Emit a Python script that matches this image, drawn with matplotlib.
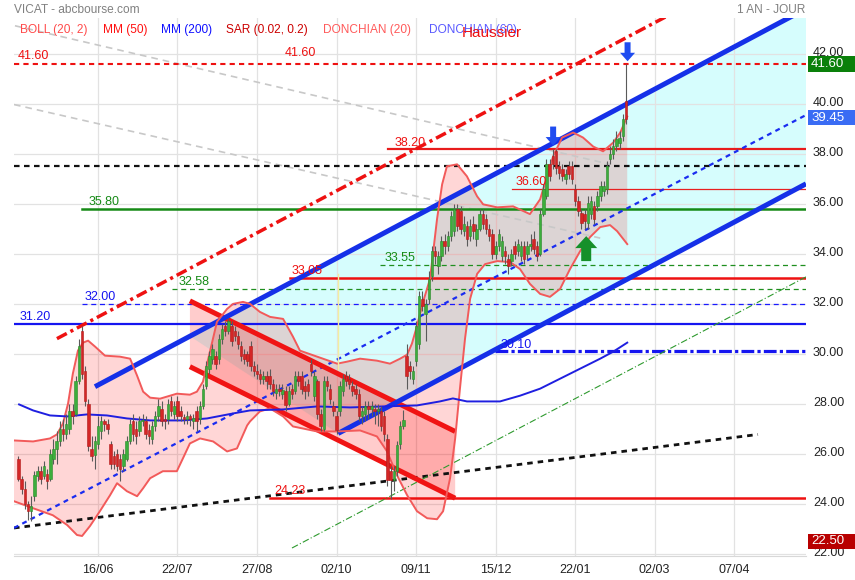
import numpy as np
import matplotlib
matplotlib.use("Agg")
import matplotlib.pyplot as plt
from matplotlib.patches import Polygon, Rectangle
from matplotlib.transforms import blended_transform_factory, ScaledTranslation

plt.rcParams['font.family'] = ['Liberation Sans', 'DejaVu Sans']

# ---------------- data ----------------
idx0 = -25
opens = [25.8,25.0,24.6,24.0,23.7,24.3,25.1,25.3,25.1,25.2,25.0,25.8,26.2,26.5,27.0,26.8,27.0,27.7,27.6,28.9,
         30.9,29.3,28.0,26.2,25.95,26.4,26.9,27.3,27.2,26.4,25.9,26.0,25.8,25.5,25.8,26.5,27.3,27.0,26.9,27.3,
         27.3,26.95,26.6,27.1,27.5,27.8,27.4,27.4,28.1,27.6,28.1,27.7,27.45,27.4,27.5,27.3,27.7,27.4,27.9,28.7,
         29.4,29.8,29.9,29.8,30.6,31.1,30.9,31.1,30.9,30.7,30.3,30.0,30.0,30.3,29.5,29.3,29.2,29.0,29.1,29.1,
         28.8,28.45,28.6,28.4,28.5,28.0,28.6,28.5,29.1,29.1,28.7,28.8,29.6,28.3,28.9,27.6,27.0,28.9,28.6,27.9,
         27.5,27.7,28.5,29.1,29.0,28.7,28.6,28.4,27.5,27.6,27.9,27.8,27.8,27.7,27.7,27.5,26.6,25.3,24.95,25.3,
         26.4,27.1,29.9,29.5,29.0,29.7,30.4,32.2,31.6,32.2,33.1,34.1,33.5,33.9,34.5,34.3,34.7,34.9,35.8,35.7,
         34.9,35.1,34.7,35.2,34.6,35.0,35.6,35.4,35.0,34.8,34.0,34.3,33.9,34.1,33.8,33.7,34.3,34.1,33.9,34.3,
         34.0,34.3,34.6,34.3,34.0,35.6,36.3,37.6,37.9,38.1,37.5,37.4,37.0,37.5,37.5,36.6,36.1,35.65,35.6,35.25,
         35.6,35.9,35.9,36.3,36.5,36.6,37.8,38.0,38.3,38.45,38.7,40.1]
highs = [25.9,25.1,24.9,24.1,24.3,25.3,25.5,25.5,25.7,25.4,26.2,26.6,26.9,27.3,27.4,27.6,28.0,28.0,29.1,30.6,
         31.1,29.5,28.2,26.7,26.7,27.5,27.5,27.4,27.4,26.5,26.1,26.2,26.0,26.2,26.7,27.4,27.6,27.3,27.5,27.6,
         27.5,27.2,27.3,27.7,28.2,28.1,27.6,28.2,28.3,28.1,28.3,27.9,27.6,27.7,27.6,27.6,27.9,28.1,28.8,29.7,
         30.1,30.4,30.1,30.8,31.2,31.3,31.45,31.3,31.1,30.9,30.5,30.2,30.1,30.5,29.7,29.6,29.4,29.3,29.3,29.4,
         29.0,28.8,28.8,28.8,28.7,28.7,28.8,29.3,29.3,29.3,28.9,29.0,29.8,29.3,29.0,27.8,29.1,29.1,28.8,28.1,
         27.7,28.9,29.2,29.3,29.2,28.9,28.8,28.6,27.9,28.1,28.1,28.1,28.0,28.0,27.9,27.7,26.8,25.5,25.5,26.5,
         27.3,27.75,30.4,29.7,29.5,31.3,32.5,32.5,32.2,33.3,34.3,34.3,34.1,34.7,34.8,34.9,35.7,36.0,36.0,35.9,
         35.5,35.3,35.4,35.5,35.2,35.8,35.8,35.6,35.2,35.0,34.5,35.0,34.7,34.3,34.0,34.2,34.5,34.6,34.5,34.5,
         34.5,34.8,34.9,34.5,35.8,36.8,37.8,37.8,38.2,38.2,37.7,37.6,37.4,37.7,37.7,36.8,36.3,35.8,35.8,36.3,
         36.3,36.1,36.5,36.9,36.9,37.7,38.3,38.6,38.9,38.9,39.6,41.6]
lows = [24.9,24.4,23.8,23.35,23.3,24.1,24.9,24.8,25.0,24.6,24.9,25.6,25.6,26.3,26.5,26.6,26.8,27.2,27.5,28.8,
        29.0,27.9,26.1,25.7,25.4,26.2,26.6,26.9,26.8,25.4,25.4,25.3,24.9,25.3,25.7,26.4,26.5,26.4,26.7,27.1,
        26.6,26.4,26.4,26.9,27.3,27.1,27.0,27.2,27.5,27.4,27.3,27.3,27.2,27.2,27.1,27.0,26.9,27.2,27.8,28.6,
        29.2,29.6,29.4,29.6,30.4,30.7,30.8,30.3,30.5,30.2,29.7,29.6,29.5,29.3,29.1,29.0,28.8,28.8,28.6,28.6,
        28.3,28.2,28.3,28.2,27.7,27.9,28.2,28.4,28.7,28.4,28.2,28.3,29.1,28.1,27.4,26.9,26.9,28.5,28.0,27.5,
        26.8,27.5,28.3,28.7,28.6,28.3,28.2,27.3,27.2,27.3,27.4,27.5,27.2,27.1,26.9,26.5,24.7,24.2,24.5,25.1,
        26.2,27.0,28.6,29.0,28.8,29.5,30.2,31.7,30.5,32.0,32.9,33.6,33.2,33.7,34.0,34.1,34.5,34.7,34.9,34.8,
        34.7,34.3,34.5,34.6,34.3,34.9,35.0,34.8,34.5,33.8,33.8,34.1,33.7,33.6,33.2,33.5,33.8,33.9,33.7,33.6,
        33.8,34.1,34.0,33.7,33.9,35.5,36.2,36.9,37.4,37.2,37.0,36.9,36.8,37.0,36.8,35.9,35.5,35.0,35.0,35.0,
        35.4,35.2,35.7,36.1,36.3,36.4,37.6,37.8,38.1,38.2,38.5,39.2]
closes = [25.0,24.6,24.0,23.7,23.9,25.15,25.3,25.0,25.5,24.9,26.0,26.2,26.5,27.0,26.8,27.2,27.7,27.5,28.9,30.3,
          29.2,28.1,26.3,25.9,26.5,27.1,27.3,27.2,27.0,25.6,25.6,25.5,25.4,26.0,26.5,27.2,26.8,26.7,27.3,27.35,
          26.8,26.7,27.1,27.5,27.9,27.3,27.3,28.0,27.7,27.9,27.5,27.5,27.4,27.5,27.4,27.45,27.3,27.9,28.6,29.5,
          29.9,30.2,29.6,30.6,31.0,30.9,31.3,30.5,30.7,30.4,29.9,29.8,29.7,29.5,29.3,29.2,29.0,29.1,28.9,28.8,
          28.5,28.6,28.5,28.55,27.95,28.5,28.4,29.1,28.9,28.6,28.5,28.5,29.3,29.1,27.6,27.1,28.9,28.7,28.2,27.7,
          26.95,28.7,29.0,28.9,28.8,28.5,28.4,27.5,27.7,27.9,27.8,27.9,27.7,27.8,27.1,26.8,24.95,24.95,25.3,26.35,
          27.1,27.35,29.1,29.3,29.3,31.1,32.3,31.9,32.0,33.0,34.1,33.9,33.9,34.5,34.3,34.7,35.5,35.8,35.1,35.0,
          35.2,34.6,35.1,34.9,35.0,35.6,35.2,35.0,34.7,34.0,34.3,34.8,34.5,33.9,33.5,34.0,34.0,34.4,34.3,33.8,
          34.3,34.4,34.2,33.9,35.6,36.6,37.6,37.1,37.6,37.45,37.25,37.1,37.2,37.2,37.0,36.1,35.7,35.25,35.3,36.05,
          36.1,35.4,36.3,36.7,36.7,37.5,38.0,38.3,38.6,38.65,39.4,39.4]

# Bollinger (20,2) band (index, price)
boll_up_i = [-26.4,-20.4,-15.1,-12.9,-11.0,-9.4,-7.9,-6.3,-4.7,-3.1,-0.9,2.2,6.9,10.1,12.3,14.2,16.4,19.5,24.8,28.9,
             31.1,33.0,35.2,37.4,40.6,42.5,45.6,47.8,50.9,54.1,58.2,61.3,63.5,68.9,75.2,78.3,82.4,87.7,91.8,95.0,
             97.2,98.7,100.3,102.2,104.4,106.6,108.2,109.7,112.9,116.0,119.2,121.1,125.5,130.5,135.8,139.0,141.2,
             143.1,145.9,149.4,152.5,155.7,158.8,162.0,164.2,166.4]
boll_up_p = [26.54,26.50,26.62,26.78,27.22,28.02,29.21,30.13,30.45,30.53,30.29,29.93,29.89,29.81,29.13,28.49,28.25,
             28.21,28.41,28.37,28.49,28.89,30.09,31.28,31.80,32.00,32.08,32.00,31.68,31.48,31.40,30.69,30.13,29.89,
             29.61,29.69,29.81,29.73,29.61,29.81,29.97,30.41,31.12,32.08,33.00,35.39,36.78,37.50,37.58,37.10,36.30,
             35.98,35.86,35.90,35.59,36.18,37.10,37.90,38.65,38.85,38.65,38.29,38.10,38.45,38.85,39.49]
boll_lo_i = [-26.4,-20.4,-14.2,-9.7,-6.6,-5.0,-2.5,0.6,3.8,6.0,9.1,12.3,14.2,16.4,20.4,24.8,26.7,28.9,32.1,36.2,
             40.6,43.7,46.9,47.8,50.9,54.1,58.2,61.3,68.9,75.2,82.4,87.7,90.9,94.0,97.2,100.3,103.5,106.6,108.5,
             110.7,112.3,113.8,115.4,117.0,119.2,121.7,125.5,129.6,132.7,135.8,139.0,142.1,145.3,148.4,151.6,
             154.7,157.9,161.0,163.2,166.4]
boll_lo_p = [24.11,23.83,23.55,23.16,22.76,22.72,23.12,23.71,24.35,24.83,24.51,24.31,24.63,25.03,25.31,25.31,25.82,
             26.42,26.62,26.50,26.10,26.22,27.14,27.30,27.70,27.82,27.50,27.10,26.90,26.90,26.94,26.70,26.10,25.15,
             24.35,23.71,23.43,23.39,23.71,25.03,26.62,28.61,30.61,32.20,33.20,33.59,33.71,33.67,33.39,32.80,32.40,
             32.28,32.60,33.39,34.11,34.67,35.07,35.15,34.91,34.39]

# MM (200)
mm200_i = [-24.8,-20.4,-15.1,-9.7,-3.5,2.8,9.1,16.4,26.7,34.3,42.5,47.8,58.2,68.9,79.2,89.6,100.3,107.5,111.6,
           116.0,126.4,132.7,139.0,145.3,151.6,157.9,162.0,166.4]
mm200_p = [27.98,27.74,27.54,27.50,27.58,27.54,27.42,27.34,27.34,27.42,27.62,27.74,27.78,27.90,27.86,27.90,27.94,
           28.10,28.22,28.10,28.10,28.33,28.61,29.01,29.41,29.81,30.09,30.45]

# trend lines: (i0, p0, i1, p1)
blue_up = (-0.94, 28.69, 222.6, 43.80)
blue_lo = (75.5, 26.82, 222.6, 36.80)
cyan_left_top = (28.9, 30.71)
blue_dash = (-26.4, 23.04, 222.6, 39.55)
red_dashdot = (-12.9, 30.61, 190.0, 44.25)
red_ch_up = (28.9, 32.12, 112.3, 26.90)
red_ch_lo = (28.9, 29.49, 112.3, 24.23)
black_dash = (-26.4, 23.04, 207.5, 26.78)
green_dd = (61.0, 22.24, 222.6, 33.08)
grey1 = (-26.1, 43.12, 161.0, 37.58)
grey2 = (-26.4, 39.97, 157.9, 34.63)

# horizontal levels
levels = [41.60, 38.20, 37.50, 36.60, 35.80, 33.55, 33.05, 32.58, 32.00, 31.20, 30.10, 24.23]

xtick_pos = [0, 25, 50, 75, 100, 125, 150, 175, 200]
xtick_lab = ['16/06', '22/07', '27/08', '02/10', '09/11', '15/12', '22/01', '02/03', '07/04']
yticks = [22, 24, 26, 28, 30, 32, 34, 36, 38, 40, 42]

# arrows (index, tip price)
arrows_down = [(166.5, 41.70), (143.1, 38.33)]
arrow_up = (153.5, 34.71)

# ---------------- figure ----------------
W, H = 855, 580
fig = plt.figure(figsize=(W / 100, H / 100), dpi=100)
fig.patch.set_facecolor('white')
ax = fig.add_axes([14 / W, 24 / H, 792 / W, 538 / H])
ax.set_xlim(-26.4, 222.6)
ax.set_ylim(21.92, 43.43)
ax.set_facecolor('white')

for s in ['top', 'left', 'right']:
    ax.spines[s].set_visible(False)
ax.spines['bottom'].set_color('#d8d8d8')

# grid
for yv in yticks:
    ax.axhline(yv, color='#e2e2e2', lw=0.9, zorder=0.8)
for xv in xtick_pos:
    ax.axvline(xv, color='#e2e2e2', lw=0.9, zorder=0.8)

def seg(t):
    return [t[0], t[2]], [t[1], t[3]]

# cyan channel
cy = Polygon([cyan_left_top, (blue_up[2], blue_up[3]), (blue_lo[2], blue_lo[3]),
              (blue_lo[0], blue_lo[1])], closed=True, fc='#d6fdfd', ec='none', zorder=0.5)
ax.add_patch(cy)

# Bollinger fill
bx = np.concatenate([boll_up_i, boll_lo_i[::-1]])
by = np.concatenate([boll_up_p, boll_lo_p[::-1]])
ax.fill(bx, by, fc=(1, 0, 0, 0.16), ec='none', zorder=1.2)
ax.plot(boll_up_i, boll_up_p, color='#f25a5a', lw=1.4, zorder=2.5)
ax.plot(boll_lo_i, boll_lo_p, color='#f25a5a', lw=1.4, zorder=2.5)

# red channel fill
rc = Polygon([(red_ch_up[0], red_ch_up[1]), (red_ch_up[2], red_ch_up[3]), (red_ch_lo[2], red_ch_lo[3]),
              (red_ch_lo[0], red_ch_lo[1])], closed=True, fc=(1, 0, 0, 0.2), ec='none', zorder=1.3)
ax.add_patch(rc)

# grey dashed lines
for g in (grey1, grey2):
    ax.plot(*seg(g), color='#c8c8c8', lw=1.2, ls=(0, (4, 3)), zorder=1.5)

# horizontal levels
lv_style = {
    41.60: dict(x0=-26.4, color='#ee1111', lw=1.5, ls=(0, (2.5, 2))),
    38.20: dict(x0=91.2, color='#e81c1c', lw=1.6, ls='-'),
    37.50: dict(x0=-26.4, color='#111111', lw=1.6, ls=(0, (2.5, 2))),
    36.60: dict(x0=130.2, color='#e82020', lw=0.9, ls='-'),
    35.80: dict(x0=-5.0, color='#168a16', lw=1.8, ls='-'),
    33.55: dict(x0=88.7, color='#1f8f1f', lw=0.9, ls=(0, (4, 3))),
    33.05: dict(x0=60.4, color='#ee1111', lw=1.8, ls='-'),
    32.58: dict(x0=23.3, color='#1f8f1f', lw=0.9, ls=(0, (4, 3))),
    32.00: dict(x0=-5.0, color='#1a1aff', lw=0.9, ls=(0, (4, 3))),
    31.20: dict(x0=-26.4, color='#1515f0', lw=1.6, ls='-'),
    30.10: dict(x0=124.8, color='#1515f0', lw=2.3, ls=(0, (4, 1, 1, 1))),
    24.23: dict(x0=54.1, color='#ee1111', lw=1.8, ls='-'),
}
for p in levels:
    st = lv_style[p]
    ax.plot([st['x0'], 222.6], [p, p], color=st['color'], lw=st['lw'], ls=st['ls'], zorder=2)

# slanted lines
ax.plot(*seg(black_dash), color='#111111', lw=2.0, ls=(0, (2, 1.8)), zorder=2)
ax.plot(*seg(green_dd), color='#2e9a2e', lw=0.8, ls=(0, (6, 2, 1, 2)), zorder=2)
ax.plot(*seg(blue_dash), color='#1a2cf0', lw=1.6, ls=(0, (2.2, 2)), zorder=2.2)
ax.plot(*seg(red_dashdot), color='#ee1111', lw=2.5, ls=(0, (3.2, 1.2, 0.9, 1.2)), zorder=2.2)
ax.plot(*seg(red_ch_up), color='#f01414', lw=3.6, solid_capstyle='butt', zorder=2.4)
ax.plot(*seg(red_ch_lo), color='#f01414', lw=3.6, solid_capstyle='butt', zorder=2.4)
ax.plot(*seg(blue_up), color='#1530e8', lw=3.6, solid_capstyle='butt', zorder=2.4)
ax.plot(*seg(blue_lo), color='#1530e8', lw=3.6, solid_capstyle='butt', zorder=2.4)

# MM 200
ax.plot(mm200_i, mm200_p, color='#1f1fe0', lw=1.4, zorder=2.6)

# odd light wick
ax.plot([75.6, 75.6], [33.2, 29.4], color='#f2eea0', lw=1.0, zorder=2.6)

# candles
n = len(closes)
xi = np.arange(idx0, idx0 + n)
o = np.array(opens); c = np.array(closes); h = np.array(highs); l = np.array(lows)
up = c >= o
ax.vlines(xi, l, h, color='#5a5a5a', lw=0.8, zorder=3)
body_b = np.minimum(o, c)
body_h = np.maximum(np.abs(c - o), 0.06)
ax.bar(xi[up], body_h[up], bottom=body_b[up], width=0.78, color='#3cae3c', edgecolor='#2a8a2a', lw=0.4, zorder=3.2)
ax.bar(xi[~up], body_h[~up], bottom=body_b[~up], width=0.78, color='#d42626', edgecolor='#b01a1a', lw=0.4, zorder=3.2)

# arrows (shapes in pixel offsets from the tip)
def px_arrow(ix, p, verts, color):
    tr = fig.dpi_scale_trans + ScaledTranslation(ix, p, ax.transData)
    v = [(a / 100.0, b / 100.0) for a, b in verts]
    ax.add_patch(Polygon(v, closed=True, transform=tr, fc=color, ec='none', zorder=5, clip_on=False))

down_shape = [(0, 0), (7.5, 8.5), (3, 8.5), (3, 19), (-3, 19), (-3, 8.5), (-7.5, 8.5)]
up_shape = [(0, 0), (11, -12), (5, -12), (5, -25), (-5, -25), (-5, -12), (-11, -12)]
for (ai, ap) in arrows_down:
    px_arrow(ai, ap, down_shape, '#1f4cf0')
px_arrow(arrow_up[0], arrow_up[1], up_shape, '#15902a')

# level labels
lab_kw = dict(fontsize=9, zorder=4, va='baseline')
ax.text(-25.2, 41.78, '41.60', color='#ee1111', **lab_kw)
ax.text(58.8, 41.93, '41.60', color='#ee1111', **lab_kw)
ax.text(93.4, 38.33, '38.20', color='#ee1111', **lab_kw)
ax.text(131.4, 36.74, '36.60', color='#ee1111', **lab_kw)
ax.text(-3.1, 35.95, '35.80', color='#168a16', **lab_kw)
ax.text(90.2, 33.71, '33.55', color='#168a16', **lab_kw)
ax.text(61.0, 33.2, '33.05', color='#ee1111', **lab_kw)
ax.text(25.2, 32.75, '32.58', color='#168a16', **lab_kw)
ax.text(-4.1, 32.15, '32.00', color='#1515f0', **lab_kw)
ax.text(-24.5, 31.35, '31.20', color='#1515f0', **lab_kw)
ax.text(126.7, 30.25, '30.10', color='#1515f0', **lab_kw)
ax.text(55.3, 24.38, '24.23', color='#ee1111', **lab_kw)

# axes ticks
ax.yaxis.tick_right()
ax.set_yticks(yticks)
ax.set_yticklabels([f'{v:.2f}' for v in yticks])
ax.set_xticks(xtick_pos)
ax.set_xticklabels(xtick_lab)
ax.tick_params(axis='y', length=0, pad=5, labelsize=9, labelcolor='#222222')
ax.tick_params(axis='x', length=0, pad=6, labelsize=9, labelcolor='#222222')
shift_up = ScaledTranslation(0, 2.5 / 100.0, fig.dpi_scale_trans)
for lbl in ax.get_yticklabels():
    lbl.set_transform(lbl.get_transform() + shift_up)

# right value boxes
bt = blended_transform_factory(ax.transAxes, ax.transData)
for val, col in [(41.60, '#0a800a'), (39.45, '#3a6cf4'), (22.50, '#b80000')]:
    ax.add_patch(Rectangle((1.0025, val - 0.31), 0.07, 0.62, transform=bt, fc=col, ec='none',
                           clip_on=False, zorder=6))
    ax.text(1.0065, val, f'{val:.2f}', transform=bt, color='white', fontsize=9.5, va='center',
            ha='left', zorder=7, clip_on=False)

# header texts
def ftext(x, y, s, **kw):
    fig.text(x / W, 1 - y / H, s, **kw)

ftext(14, 12.7, 'VICAT - abcbourse.com', color='#808080', fontsize=8.6, va='baseline')
ftext(737, 12.7, '1 AN - JOUR', color='#808080', fontsize=8.6, va='baseline')
legend_items = [(20, 'BOLL (20, 2)', '#ff4a4a'), (103, 'MM (50)', '#ff1010'), (161, 'MM (200)', '#1010ff'),
                (226, 'SAR (0.02, 0.2)', '#cc0000'), (323, 'DONCHIAN (20)', '#ff5a5a'),
                (429, 'DONCHIAN (60)', '#5a5aff')]
for x, s, col in legend_items:
    ftext(x, 33, s, color=col, fontsize=8.6, va='baseline', zorder=8)
ftext(462, 37, 'Haussier', color='#ee1111', fontsize=11, va='baseline', zorder=9)

fig.savefig('out.png', dpi=100)
